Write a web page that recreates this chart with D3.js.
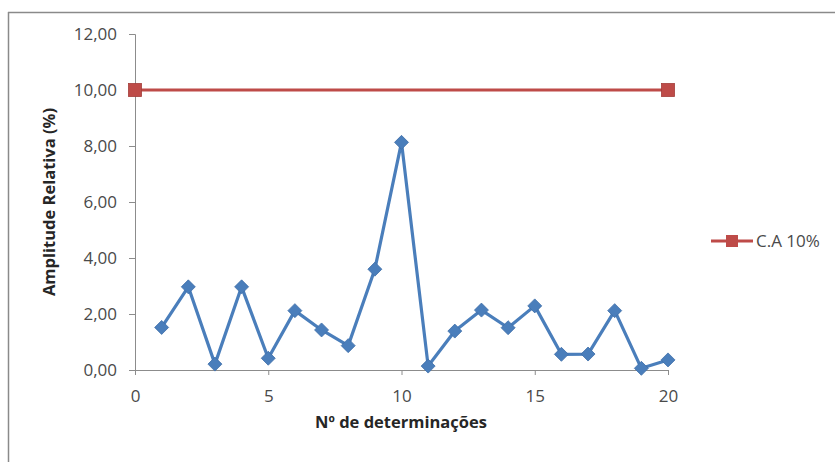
<!DOCTYPE html>
<html><head><meta charset="utf-8">
<script src="https://cdn.jsdelivr.net/npm/d3@7"></script>
<style>html,body{margin:0;padding:0;background:#fff;} svg{display:block;}</style>
</head><body>
<svg id="chart" width="835" height="462"></svg>
<script>
const determinacoes = [1,2,3,4,5,6,7,8,9,10,11,12,13,14,15,16,17,18,19,20];
const amplitude = [1.52,2.97,0.21,2.97,0.42,2.12,1.43,0.87,3.60,8.13,0.14,1.39,2.14,1.51,2.29,0.56,0.57,2.12,0.06,0.36];
const caX = [0,20];
const caY = [10,10];
const caLabel = "C.A 10%";
const xTicks = [0,5,10,15,20];
const yTicks = [0,2,4,6,8,10,12];
const xTitle = "Nº de determinações";
const yTitle = "Amplitude Relativa (%)";

const svg = d3.select("#chart");
const font = "'Open Sans', sans-serif";
// border
svg.append("line").attr("x1",8.5).attr("x2",8.5).attr("y1",12).attr("y2",462).attr("stroke","#8a8a8a").attr("stroke-width",1.5);
svg.append("line").attr("x1",8).attr("x2",835).attr("y1",12.5).attr("y2",12.5).attr("stroke","#8a8a8a").attr("stroke-width",1.5);

const x = d3.scaleLinear().domain([0,20]).range([135,668]);
const y = d3.scaleLinear().domain([0,12]).range([370,34]);

const yAxis = svg.append("g").attr("transform","translate(135,0)")
  .call(d3.axisLeft(y).tickValues(yTicks).tickSize(6).tickPadding(12)
    .tickFormat(d => d3.format(".2f")(d).replace(".",",")));
const xAxis = svg.append("g").attr("transform","translate(0,370)")
  .call(d3.axisBottom(x).tickValues(xTicks).tickSize(5).tickPadding(15));
[yAxis,xAxis].forEach(a=>{
  a.select(".domain").attr("stroke","#8c8c8c");
  a.selectAll(".tick line").attr("stroke","#8c8c8c");
  a.selectAll("text").attr("fill","#4a4a4a").style("font-family",font).style("font-size","17px");
});
yAxis.selectAll("text").attr("dy","0.35em");
xAxis.selectAll("text").attr("dy","0.71em");

// titles
svg.append("text").attr("x",401).attr("y",428).attr("text-anchor","middle")
  .style("font-family",font).style("font-size","16.5px").style("font-weight","bold").attr("fill","#262626")
  .text(xTitle);
svg.append("text").attr("transform","translate(55,202) rotate(-90)").attr("text-anchor","middle")
  .style("font-family",font).style("font-size","16.5px").style("font-weight","bold").attr("fill","#262626")
  .text(yTitle);

// C.A line
const caData = caX.map((d,i)=>({x:d,y:caY[i]}));
const red = "#BE4B48";
svg.append("path").datum(caData)
  .attr("d", d3.line().x(d=>x(d.x)).y(d=>y(d.y)))
  .attr("fill","none").attr("stroke",red).attr("stroke-width",3);
svg.selectAll(".sq").data(caData).enter().append("rect")
  .attr("x",d=>x(d.x)-6.5).attr("y",d=>y(d.y)-6.5).attr("width",13).attr("height",13)
  .attr("fill",red).attr("stroke","#a33d3a").attr("stroke-width",0.8);

// blue series
const blue = "#4A7EBB";
const data = determinacoes.map((d,i)=>({x:d,y:amplitude[i]}));
svg.append("path").datum(data)
  .attr("d", d3.line().x(d=>x(d.x)).y(d=>y(d.y)))
  .attr("fill","none").attr("stroke",blue).attr("stroke-width",3.2).attr("stroke-linejoin","round");
svg.selectAll(".dm").data(data).enter().append("path")
  .attr("transform",d=>`translate(${x(d.x)},${y(d.y)})`)
  .attr("d","M0,-7L7,0L0,7L-7,0Z").attr("fill",blue).attr("stroke","#3f6fa8").attr("stroke-width",0.8);

// legend
svg.append("line").attr("x1",711).attr("x2",753).attr("y1",241).attr("y2",241).attr("stroke",red).attr("stroke-width",3);
svg.append("rect").attr("x",726).attr("y",235).attr("width",12).attr("height",12).attr("fill",red);
svg.append("text").attr("x",756).attr("y",247).style("font-family",font).style("font-size","17px").attr("fill","#4a4a4a").text(caLabel);
</script>
</body></html>
